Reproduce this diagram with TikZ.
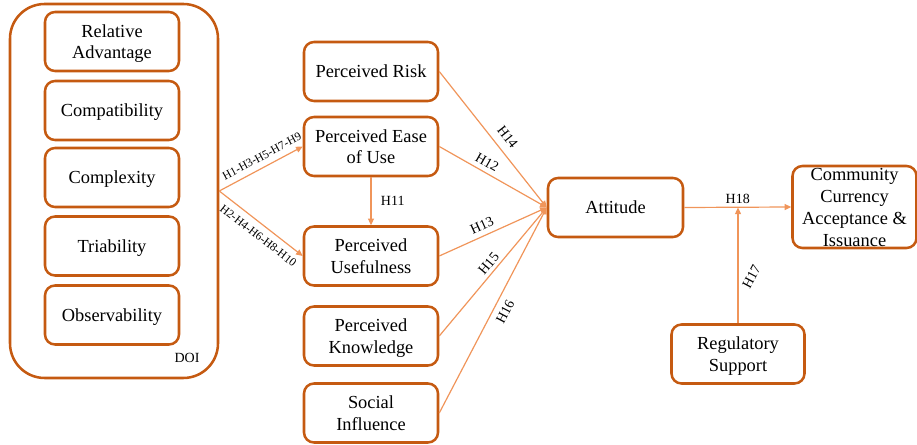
\documentclass[tikz,border=0pt]{standalone}
\usepackage{fontspec}
\setmainfont{Liberation Serif}
\usetikzlibrary{arrows.meta}
\definecolor{boxc}{HTML}{C55A11}
\definecolor{arrc}{HTML}{F0955A}
\tikzset{
  stbox/.style={draw=boxc, line width=1.9pt, rounded corners=7.5pt, minimum width=100.5pt, minimum height=44.25pt, align=center, inner sep=0pt, text depth=0pt, font=\fontsize{13.8}{16}\selectfont},
  conn/.style={draw=arrc, line width=0.9pt, -{Triangle[length=5pt,width=4.5pt]}},
  hlab/.style={font=\fontsize{10.5}{12}\selectfont, inner sep=1.5pt},
  slab/.style={font=\fontsize{8.8}{10}\selectfont, inner sep=1.5pt}
}
\begin{document}
\begin{tikzpicture}[x=0.75pt,y=-0.75pt]
\useasboundingbox (0,0) rectangle (917,445);
% DOI group
\node[draw=boxc, line width=1.9pt, rounded corners=26pt, minimum width=156pt, minimum height=280.5pt, inner sep=0pt] (doi) at (114,191) {};
\node[stbox] (ra) at (112,41.5) {Relative\\Advantage};
\node[stbox] (co) at (112,110.5) {Compatibility};
\node[stbox] (cx) at (112,177.5) {Complexity};
\node[stbox] (tr) at (112,246) {Triability};
\node[stbox] (ob) at (112,315) {Observability};
\node[font=\fontsize{10.5}{12}\selectfont] (doil) at (187,358) {DOI};
% middle column
\node[stbox] (pr) at (371,71.5) {Perceived Risk};
\node[stbox] (peu) at (371,146.5) {Perceived Ease\\of Use};
\node[stbox] (pu) at (371,256) {Perceived\\Usefulness};
\node[stbox] (pk) at (371,336) {Perceived\\Knowledge};
\node[stbox] (si) at (371,413) {Social\\Influence};
% right
\node[stbox, minimum width=101.25pt] (att) at (615.5,207.5) {Attitude};
\node[stbox, minimum width=93pt, minimum height=61.5pt, font=\fontsize{13.8}{16.5}\selectfont] (cc) at (854.5,207) {Community\\Currency\\Acceptance \&\\Issuance};
\node[stbox, minimum width=99.75pt] (rs) at (738,354) {Regulatory\\Support};
% connectors
\draw[conn] (doi.east) -- node[slab, sloped, above=3pt, pos=0.57] {H1-H3-H5-H7-H9} (peu.west);
\draw[conn] (doi.east) -- node[slab, sloped, below=3.5pt, pos=0.55] {H2-H4-H6-H8-H10} (pu.west);
\draw[conn] (peu.south) -- node[hlab, right=5.5pt] {H11} (pu.north);
\draw[conn] (pr.east) -- node[hlab, sloped, above=4.5pt, pos=0.54] {H14} (att.west);
\draw[conn] (peu.east) -- node[hlab, sloped, above=2pt, pos=0.40] {H12} (att.west);
\draw[conn] (pu.east) -- node[hlab, sloped, above=2pt, pos=0.435] {H13} (att.west);
\draw[conn] (pk.east) -- node[hlab, sloped, above=1pt, pos=0.52] {H15} (att.west);
\draw[conn] (si.east) -- node[hlab, sloped, below=3pt, pos=0.52] {H16} (att.west);
\draw[conn] (att.east) -- node[hlab, above=1pt, pos=0.5] {H18} (cc.west);
\coordinate (j) at (rs.north |- att.east);
\draw[conn] (rs.north) -- node[hlab, pos=0.4, xshift=10pt, rotate=62] {H17} (j);
\end{tikzpicture}
\end{document}
